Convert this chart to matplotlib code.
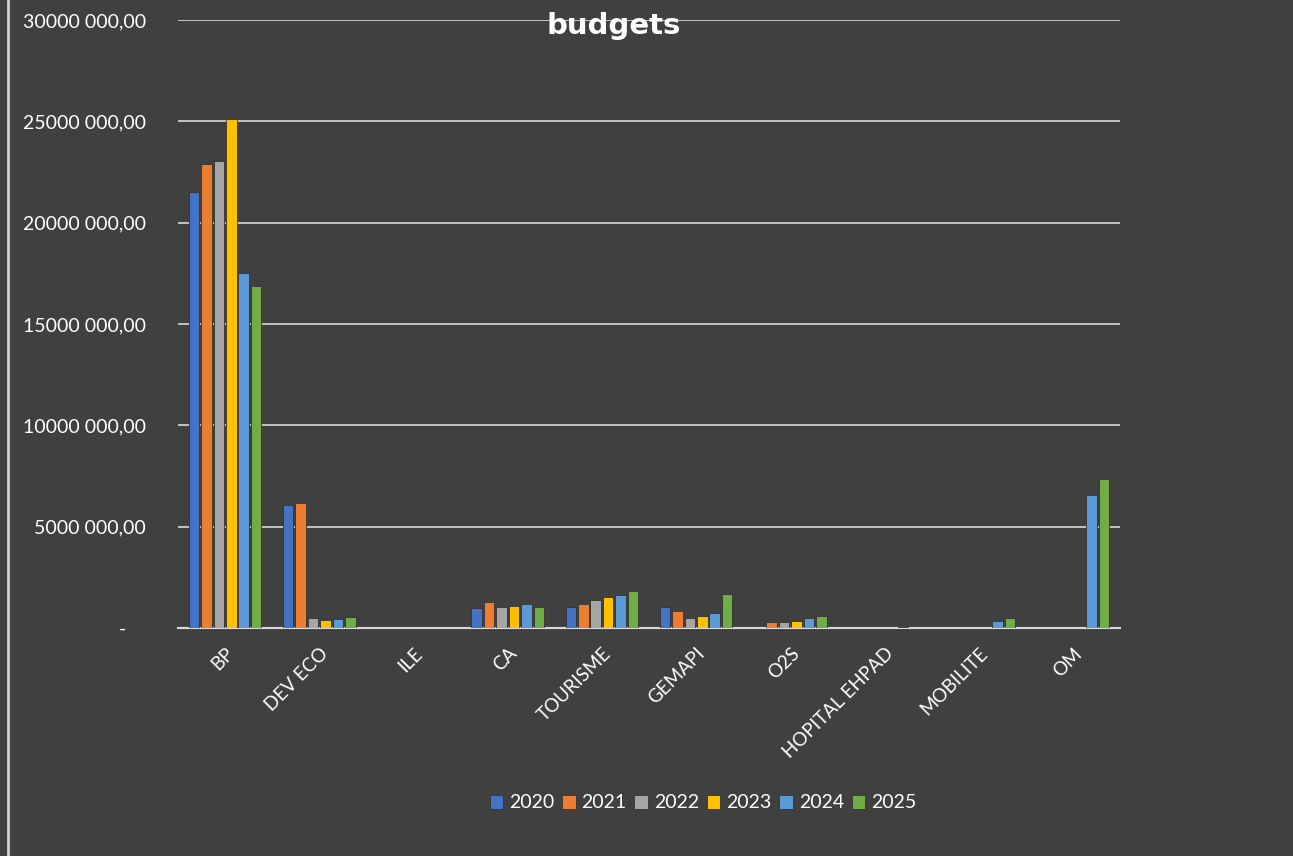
import matplotlib
matplotlib.use("Agg")
import matplotlib.pyplot as plt
import numpy as np

categories = ["BP", "DEV ECO", "ILE", "CA", "TOURISME", "GEMAPI", "O2S", "HOPITAL EHPAD", "MOBILITE", "OM"]
years = ["2020", "2021", "2022", "2023", "2024", "2025"]
v2020 = [21500000, 6070000, 0, 990000, 1050000, 1040000, 0, 0, 0, 0]
v2021 = [22900000, 6170000, 0, 1280000, 1180000, 840000, 310000, 0, 0, 0]
v2022 = [23040000, 490000, 0, 1020000, 1360000, 480000, 310000, 0, 0, 0]
v2023 = [25100000, 380000, 0, 1100000, 1550000, 610000, 360000, 20000, 0, 0]
v2024 = [17500000, 430000, 0, 1200000, 1640000, 740000, 480000, 50000, 350000, 6560000]
v2025 = [16870000, 530000, 0, 1050000, 1830000, 1660000, 580000, 0, 510000, 7350000]
series = [v2020, v2021, v2022, v2023, v2024, v2025]
colors = ["#4472C4", "#ED7D31", "#A5A5A5", "#FFC000", "#5B9BD5", "#70AD47"]
yticks = [0, 5000000, 10000000, 15000000, 20000000, 25000000, 30000000]

bg = "#404040"
plt.rcParams['font.family'] = ['Lato', 'DejaVu Sans']
fig = plt.figure(figsize=(12.93, 8.56), dpi=100, facecolor=bg)
ax = fig.add_axes([178/1293, 1-628/856, (1120-178)/1293, (628-20)/856])
ax.set_facecolor(bg)

x = np.arange(len(categories))
pitch = 0.132
bw = 0.112
for i, (vals, c, yr) in enumerate(zip(series, colors, years)):
    ax.bar(x + (i - 2.5) * pitch, vals, width=bw, color=c, label=yr,
           edgecolor="#333333", linewidth=0.6, zorder=3)

ax.set_xlim(-0.5, len(categories) - 0.5)
ax.set_ylim(0, 30000000)
ax.set_yticks(yticks)

labels = ["-    " if v == 0 else f"{v // 1000000 * 1000} 000,00" for v in yticks]
ax.set_yticklabels(labels, color="white", fontsize=14)
ax.tick_params(axis="y", length=0, pad=23)
ax.grid(axis="y", color="#d9d9d9", linewidth=1.2, zorder=0)
ax.set_xticks(x)
ax.set_xticklabels(categories, rotation=45, ha="right", rotation_mode="anchor", color="white", fontsize=13.5)
ax.tick_params(axis="x", length=0, pad=12)
for s in ["top", "right", "left"]:
    ax.spines[s].set_visible(False)
ax.spines["bottom"].set_color("#d9d9d9")
ax.spines["bottom"].set_linewidth(1.5)

fig.text(614/1293, 1-26/856, "budgets", color="white", fontsize=21, fontweight="bold",
         ha="center", va="center", family="DejaVu Sans")

leg = fig.legend(loc="center", bbox_to_anchor=(703/1293, 1-803/856), ncol=6, frameon=False,
                 handlelength=0.7, handleheight=0.7, handletextpad=0.3, columnspacing=0.4,
                 fontsize=14)
for t in leg.get_texts():
    t.set_color("white")

fig.add_artist(plt.Line2D([7.5/1293, 7.5/1293], [0, 1], color="#d0d0d0", linewidth=2, transform=fig.transFigure))

fig.savefig("out.png", dpi=100, facecolor=bg)
